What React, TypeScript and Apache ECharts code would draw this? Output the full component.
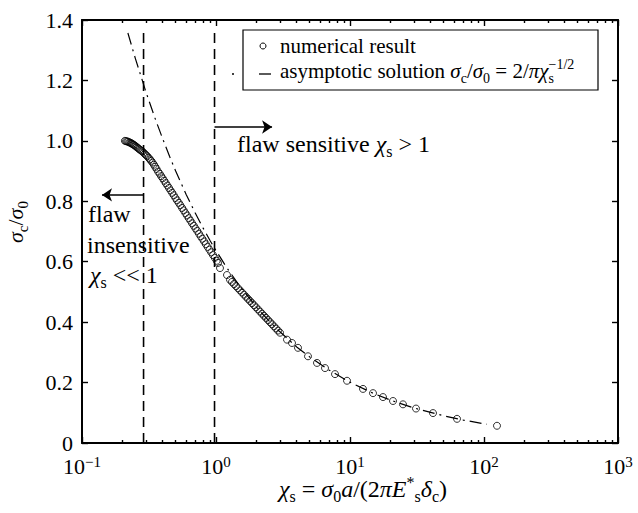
import React, { useEffect, useRef } from 'react';
import * as echarts from 'echarts';

const FONT = 'Liberation Serif';

// numerical result (chi_s, sigma_c/sigma_0)
const numChi = [
  0.209, 0.213, 0.217, 0.221, 0.225, 0.229, 0.233, 0.237, 0.241, 0.245,
  0.250, 0.255, 0.260, 0.265, 0.270, 0.276, 0.282, 0.288, 0.294, 0.300,
  0.307, 0.314, 0.321, 0.328, 0.336, 0.344, 0.352, 0.360,
  0.370, 0.380, 0.390, 0.400, 0.411, 0.422, 0.434, 0.446, 0.458, 0.471,
  0.484, 0.498, 0.512, 0.527, 0.542, 0.558, 0.574, 0.591, 0.608, 0.626,
  0.644, 0.663, 0.683, 0.703, 0.724, 0.746, 0.768, 0.791, 0.815, 0.840,
  0.866, 0.893, 0.921, 0.950, 0.980, 1.012, 1.035,
  1.071, 1.208,
  1.272, 1.316, 1.362, 1.411, 1.460, 1.511, 1.563, 1.618, 1.675, 1.733,
  1.794, 1.857, 1.921, 1.988, 2.058, 2.130, 2.204, 2.281, 2.361, 2.444,
  2.529, 2.618, 2.709, 2.804, 2.902, 3.004,
  3.388, 3.692, 4.092, 4.860, 5.671, 6.508, 7.729, 9.498, 12.50, 14.85,
  17.63, 20.94, 24.86, 31.09, 41.64, 62.88, 125.0,
];
const numSigma = [
  1.000, 0.999, 0.998, 0.997, 0.995, 0.994, 0.992, 0.990, 0.988, 0.986,
  0.983, 0.980, 0.977, 0.974, 0.971, 0.968, 0.965, 0.961, 0.957, 0.953,
  0.949, 0.944, 0.939, 0.934, 0.928, 0.921, 0.914, 0.907,
  0.898, 0.891, 0.883, 0.876, 0.868, 0.860, 0.852, 0.844, 0.836, 0.828,
  0.820, 0.811, 0.803, 0.795, 0.787, 0.778, 0.770, 0.761, 0.753, 0.744,
  0.736, 0.727, 0.719, 0.710, 0.702, 0.693, 0.684, 0.676, 0.667, 0.658,
  0.649, 0.640, 0.631, 0.622, 0.613, 0.603, 0.596,
  0.579, 0.556,
  0.540, 0.533, 0.526, 0.519, 0.512, 0.505, 0.498, 0.491, 0.484, 0.477,
  0.470, 0.463, 0.456, 0.449, 0.442, 0.435, 0.428, 0.421, 0.414, 0.407,
  0.400, 0.393, 0.386, 0.379, 0.372, 0.365,
  0.342, 0.331, 0.315, 0.287, 0.265, 0.248, 0.228, 0.206, 0.179, 0.165,
  0.152, 0.139, 0.128, 0.114, 0.099, 0.080, 0.057,
];

// asymptotic solution curve
const asymChi = [0.22, 0.25, 0.3, 0.35, 0.4, 0.45, 0.5, 0.6, 0.7, 0.8, 0.9, 1.0, 1.2, 1.5, 2, 2.5, 3, 4, 5, 7, 10, 15, 20, 30, 50, 70, 105];
const asymSigma = [1.357, 1.273, 1.162, 1.076, 1.007, 0.949, 0.900, 0.822, 0.761, 0.712, 0.671, 0.637, 0.581, 0.520, 0.450, 0.403, 0.368, 0.318, 0.285, 0.241, 0.201, 0.164, 0.142, 0.116, 0.090, 0.076, 0.062];

// regime boundaries (vertical dashed lines)
const boundaryChi = [0.288, 0.975];
const boundaryTop = 1.36;

// arrows [from, to]
const insensitiveArrow = [[0.288, 0.821], [0.141, 0.821]];
const sensitiveArrow = [[0.975, 1.046], [2.62, 1.046]];

// ticks
const xMajor = [0.1, 1, 10, 100, 1000];
const xMinor = [0.2, 0.3, 0.4, 0.5, 0.6, 0.7, 0.8, 0.9, 2, 3, 4, 5, 6, 7, 8, 9, 20, 30, 40, 50, 60, 70, 80, 90, 200, 300, 400, 500, 600, 700, 800, 900];

const mkRich = (F: number, LH: number) => {
  const s = Math.round(F * 0.68);
  return {
    t: { fontSize: F, fontFamily: FONT, lineHeight: LH, verticalAlign: 'middle', fill: '#000', color: '#000' },
    g: { fontSize: F, fontFamily: FONT, fontStyle: 'italic', lineHeight: LH, verticalAlign: 'middle', fill: '#000', color: '#000' },
    sub: { fontSize: s, fontFamily: FONT, verticalAlign: 'bottom', fill: '#000', color: '#000' },
    sup: { fontSize: s, fontFamily: FONT, verticalAlign: 'top', fill: '#000', color: '#000' },
    supz: { fontSize: s, fontFamily: FONT, verticalAlign: 'top', width: 0, fill: '#000', color: '#000' },
  };
};

const baseX = (pos: 'bottom' | 'top', ticks: number[], len: number, showLine: boolean, showLabel: boolean) => ({
  type: 'log',
  logBase: 10,
  min: 0.1,
  max: 1000,
  position: pos,
  axisLine: { show: showLine, onZero: false, lineStyle: { color: '#000', width: 2 } },
  axisTick: { show: true, inside: true, length: len, customValues: ticks, lineStyle: { color: '#000', width: 1.4 } },
  axisLabel: showLabel
    ? {
        show: true,
        margin: 11,
        customValues: xMajor,
        formatter: (v: number) => {
          const e = Math.round(Math.log10(v));
          return `{b|10}{s|${e < 0 ? '\u2212' + -e : e}}`;
        },
        rich: {
          b: { fontSize: 22, fontFamily: FONT, color: '#000', lineHeight: 24, verticalAlign: 'middle' },
          s: { fontSize: 15, fontFamily: FONT, color: '#000', verticalAlign: 'top' },
        },
      }
    : { show: false },
  splitLine: { show: false },
});

const baseY = (pos: 'left' | 'right', showLabel: boolean) => ({
  type: 'value',
  min: 0,
  max: 1.4,
  interval: 0.2,
  position: pos,
  axisLine: { show: true, onZero: false, lineStyle: { color: '#000', width: 2 } },
  axisTick: { show: true, inside: true, length: 6, lineStyle: { color: '#000', width: 1.4 } },
  axisLabel: showLabel
    ? {
        show: true,
        margin: 9,
        color: '#000',
        fontSize: 22,
        fontFamily: FONT,
        formatter: (v: number) => (v === 0 ? '0' : v.toFixed(1)),
      }
    : { show: false },
  splitLine: { show: false },
});

export default function App() {
  const ref = useRef<HTMLDivElement>(null);
  useEffect(() => {
    document.body.style.margin = '0';
    const chart = echarts.init(ref.current!, null, { renderer: 'svg' });
    const r22 = mkRich(22, 30);
    const r24 = mkRich(24, 30);
    const r21 = mkRich(21, 28);
    const option: any = {
      animation: false,
      backgroundColor: '#fff',
      textStyle: { fontFamily: FONT },
      grid: { left: 82, right: 20, top: 20, bottom: 70, containLabel: false },
      xAxis: [
        baseX('bottom', xMajor, 6, true, true),
        baseX('bottom', xMinor, 3, false, false),
        baseX('top', xMajor, 6, true, false),
        baseX('top', xMinor, 3, false, false),
      ],
      yAxis: [baseY('left', true), baseY('right', false)],
      series: [
        {
          type: 'line',
          name: 'asymptotic solution',
          data: asymChi.map((c, i) => [c, asymSigma[i]]),
          symbol: 'none',
          showSymbol: false,
          lineStyle: { color: '#000', width: 1.2, type: [12, 5, 2, 5] },
          z: 2,
        },
        {
          type: 'scatter',
          name: 'numerical result',
          data: numChi.map((c, i) => [c, numSigma[i]]),
          symbol: 'circle',
          symbolSize: 7,
          itemStyle: { color: 'rgba(0,0,0,0)', borderColor: '#000', borderWidth: 1 },
          z: 3,
        },
        ...boundaryChi.map((c) => ({
          type: 'line',
          data: [[c, 0], [c, boundaryTop]],
          symbol: 'none',
          showSymbol: false,
          lineStyle: { color: '#000', width: 1.6, type: [10, 6] },
          z: 2,
        })),
        {
          type: 'lines',
          coordinateSystem: 'cartesian2d',
          data: [{ coords: insensitiveArrow }, { coords: sensitiveArrow }],
          symbol: ['none', 'arrow'],
          symbolSize: 10,
          lineStyle: { color: '#000', width: 1.5, opacity: 1, curveness: 0 },
          effect: { show: false },
          z: 4,
        },
      ],
      graphic: [
        // legend box
        { type: 'rect', z: 100, shape: { x: 243, y: 30, width: 355, height: 60 }, style: { fill: '#fff', stroke: '#000', lineWidth: 1.2 } },
        { type: 'circle', z: 101, shape: { cx: 263, cy: 46, r: 3 }, style: { fill: 'none', stroke: '#000', lineWidth: 1 } },
        { type: 'line', z: 101, shape: { x1: 259, y1: 74, x2: 271, y2: 74 }, style: { stroke: '#000', lineWidth: 1.3 } },
        { type: 'line', z: 101, shape: { x1: 232, y1: 74, x2: 234, y2: 74 }, style: { stroke: '#000', lineWidth: 1.3 } },
        {
          type: 'text', z: 101, x: 280, y: 46,
          style: { text: 'numerical result', fontSize: 21, fontFamily: FONT, fill: '#000', align: 'left', verticalAlign: 'middle', textAlign: 'left', textVerticalAlign: 'middle' },
        },
        {
          type: 'text', z: 101, x: 280, y: 71,
          style: {
            text: '{t|asymptotic solution }{g|σ}{sub|c}{t|/}{g|σ}{sub|0}{t| = 2/}{g|πχ}{supz|\u22121/2}{sub|s}',
            rich: r21, fill: '#000', fontFamily: FONT, align: 'left', verticalAlign: 'middle', textAlign: 'left', textVerticalAlign: 'middle',
          },
        },
        // annotations
        {
          type: 'text', z: 50, x: 237, y: 144,
          style: { text: '{t|flaw sensitive }{g|χ}{sub|s}{t| > 1}', rich: r24, fill: '#000', fontFamily: FONT, align: 'left', verticalAlign: 'middle', textAlign: 'left', textVerticalAlign: 'middle' },
        },
        {
          type: 'text', z: 50, x: 88, y: 214,
          style: { text: '{t|flaw}', rich: r24, fill: '#000', fontFamily: FONT, align: 'left', verticalAlign: 'middle', textAlign: 'left', textVerticalAlign: 'middle' },
        },
        {
          type: 'text', z: 50, x: 87, y: 245,
          style: { text: '{t|insensitive}', rich: r24, fill: '#000', fontFamily: FONT, align: 'left', verticalAlign: 'middle', textAlign: 'left', textVerticalAlign: 'middle' },
        },
        {
          type: 'text', z: 50, x: 90, y: 275,
          style: { text: '{g|χ}{sub|s}{t| << 1}', rich: r24, fill: '#000', fontFamily: FONT, align: 'left', verticalAlign: 'middle', textAlign: 'left', textVerticalAlign: 'middle' },
        },
        // axis titles
        {
          type: 'text', z: 50, x: 279, y: 489,
          style: {
            text: '{g|χ}{sub|s}{t| = }{g|σ}{sub|0}{g|a}{t|/(2}{g|πE}{sup|*}{sub|s}{g|δ}{sub|c}{t|)}',
            rich: r24, fill: '#000', fontFamily: FONT, align: 'left', verticalAlign: 'middle', textAlign: 'left', textVerticalAlign: 'middle',
          },
        },
        {
          type: 'text', z: 50, x: 15, y: 222, rotation: Math.PI / 2,
          style: {
            text: '{g|σ}{sub|c}{t|/}{g|σ}{sub|0}',
            rich: r22, fill: '#000', fontFamily: FONT, align: 'center', verticalAlign: 'middle', textAlign: 'center', textVerticalAlign: 'middle',
          },
        },
      ],
    };
    chart.setOption(option);
    return () => chart.dispose();
  }, []);
  return <div ref={ref} style={{ width: 638, height: 513 }} />;
}
